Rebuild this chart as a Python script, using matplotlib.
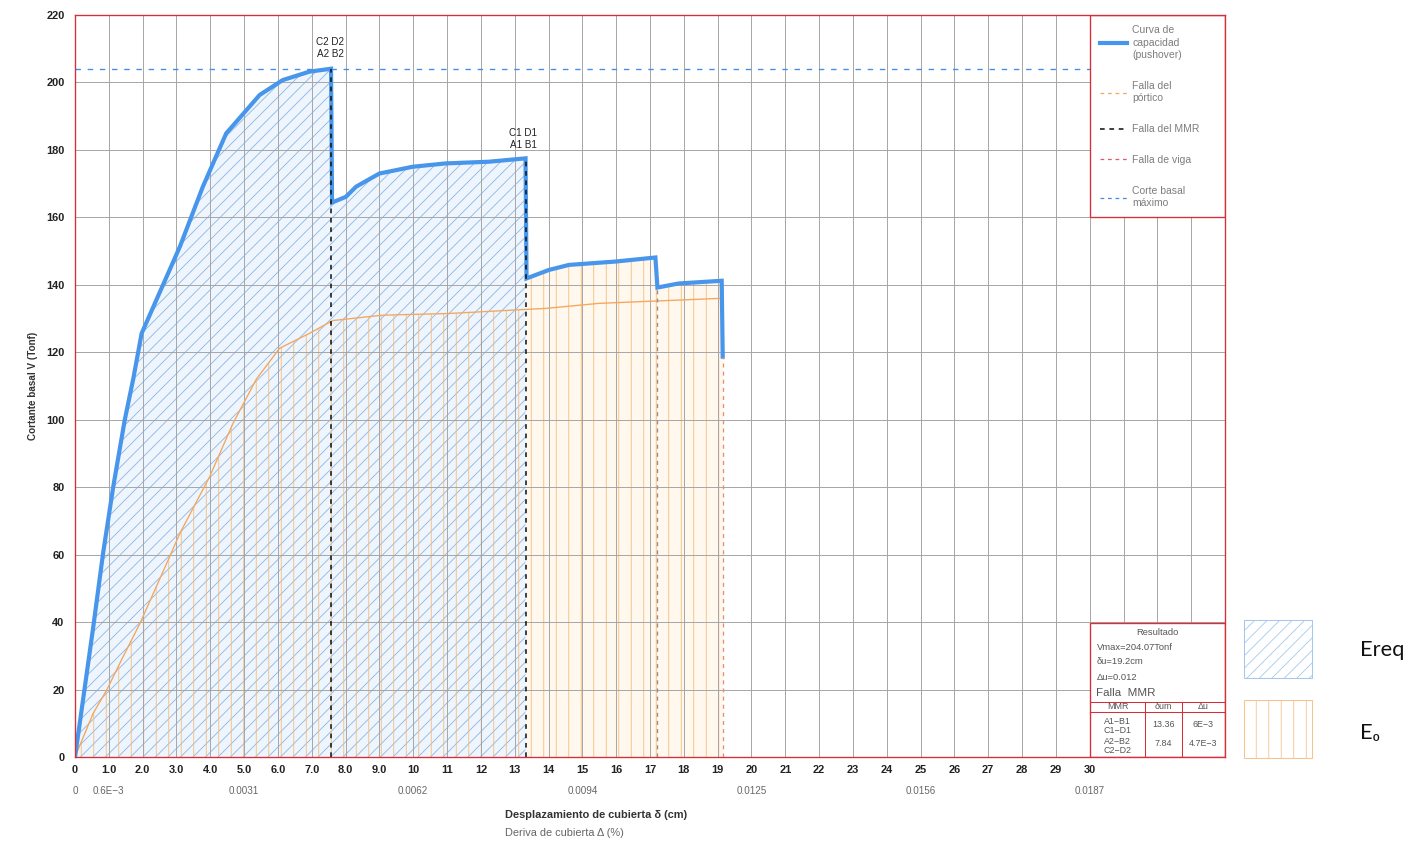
import numpy as np
import matplotlib.pyplot as plt
from matplotlib.patches import Rectangle
from matplotlib.lines import Line2D

plt.rcParams['font.family'] = ['Liberation Sans', 'DejaVu Sans']
plt.rcParams['hatch.linewidth'] = 0.8

# curva de capacidad (pushover): desplazamiento (cm) / cortante basal (Tonf)
cap_x = [0, 0.54, 0.83, 1.13, 1.47, 1.72, 1.97, 3.10, 3.78, 4.47, 5.46, 6.14, 6.93, 7.57,
         7.60, 8.01, 8.31, 9.00, 9.98, 10.96, 12.24, 13.32,
         13.35, 14.01, 14.60, 15.98, 17.16,
         17.22, 17.85, 19.12, 19.15]
cap_v = [0, 38.6, 60.4, 80.1, 99.9, 112.0, 125.6, 151.3, 169.1, 184.9, 196.3, 200.7, 203.2, 204.07,
         164.4, 166.1, 169.1, 173.0, 175.0, 176.0, 176.5, 177.5,
         141.9, 144.4, 145.9, 146.9, 148.1,
         139.2, 140.4, 141.2, 118.7]

# curva del portico
port_x = [0, 0.54, 0.94, 1.42, 1.92, 2.71, 3.10, 3.98, 4.67, 5.36, 6.05, 6.93, 7.62,
          9.09, 11.06, 13.32, 13.91, 15.49, 19.12]
port_v = [0, 13.0, 19.9, 29.7, 39.6, 57.4, 66.3, 83.1, 98.9, 112.0, 121.2, 125.6, 129.4,
          131.0, 131.5, 132.7, 133.0, 134.5, 136.0]

v_max = 204.07

x_ticks = list(range(0, 31))
x_labels = ['0'] + ['%.1f' % t for t in range(1, 10)] + [str(t) for t in range(10, 31)]
drift_pos = [0, 1, 5, 10, 15, 20, 25, 30]
drift_labels = ['0', '0.6E\u22123', '0.0031', '0.0062', '0.0094', '0.0125', '0.0156', '0.0187']

blue = '#4796ec'
orange = '#f4a75e'
red = '#d4303c'

cap_x = np.array(cap_x)
cap_v = np.array(cap_v)
port_x = np.array(port_x)
port_v = np.array(port_v)

i_pk1 = int(np.argmax(cap_v))          # falla MMR 2
i_pk2 = 21                              # falla MMR 1
i_viga = 27
i_end = len(cap_x) - 1

fig = plt.figure(figsize=(1420 / 75, 846 / 75), dpi=75)
ax = fig.add_axes([75 / 1420, 89 / 846, 1150 / 1420, 742 / 846])

# Ereq: area bajo la curva de capacidad
ax.fill_between(cap_x[:i_pk2 + 1], 0, cap_v[:i_pk2 + 1], facecolor='#eef5fd',
                edgecolor='#8db6e6', hatch='//', lw=0, zorder=1)
# E0
m = port_x <= cap_x[i_pk2]
ax.fill_between(port_x[m], 0, port_v[m], facecolor='none', edgecolor='#f6bb78',
                hatch='|', lw=0, zorder=1.2)
ax.fill_between(cap_x[i_pk2 + 1:], 0, cap_v[i_pk2 + 1:], facecolor='#fff8ef',
                edgecolor='#f6bb78', hatch='|', lw=0, zorder=1.2)

ax.set_xlim(0, 34)
ax.set_ylim(0, 220)
ax.set_xticks(np.arange(0, 35, 1), minor=True)
ax.set_xticks(x_ticks, labels=x_labels)
ax.set_yticks(np.arange(0, 221, 20))
ax.grid(True, which='both', color='#a3a3a3', lw=0.9)
ax.set_axisbelow(False)
ax.tick_params(which='both', length=0)
ax.tick_params(axis='x', pad=8, labelsize=10.5, labelcolor='#222')
ax.tick_params(axis='y', pad=10, labelsize=10.5, labelcolor='#222')
for lab in ax.get_xticklabels() + ax.get_yticklabels():
    lab.set_fontweight('bold')
for s in ax.spines.values():
    s.set_color(red)
    s.set_linewidth(1.3)
    s.set_zorder(10)

ax.plot(port_x, port_v, color=orange, lw=1.3, zorder=3)
ax.axhline(v_max, color='#3f8fe6', lw=1.3, ls=(0, (4, 5)), zorder=3)
ax.plot(cap_x, cap_v, color=blue, lw=4, solid_joinstyle='miter', zorder=4)

ax.vlines([cap_x[i_pk1], cap_x[i_pk2]], 0, [cap_v[i_pk1], cap_v[i_pk2]],
          colors='#111111', lw=1.5, linestyles=(0, (3, 3)), zorder=5)
ax.vlines(cap_x[i_viga], 0, cap_v[i_viga], colors='#9a8e96', lw=1.3,
          linestyles=(0, (3, 3)), zorder=5)
ax.vlines(cap_x[i_end], 0, cap_v[i_end], colors='#e8906e', lw=1.3,
          linestyles=(0, (3, 3)), zorder=5)

ax.annotate('C2 D2\nA2 B2', xy=(cap_x[i_pk1], cap_v[i_pk1]), xytext=(-1, 9),
            textcoords='offset points', ha='center', va='bottom', fontsize=9.5,
            color='#222', linespacing=1.3)
ax.annotate('C1 D1\nA1 B1', xy=(cap_x[i_pk2], cap_v[i_pk2]), xytext=(-2, 8),
            textcoords='offset points', ha='center', va='bottom', fontsize=9.5,
            color='#222', linespacing=1.3)

ax.set_ylabel('Cortante basal V (Tonf)', fontsize=9.5, fontweight='bold', color='#333',
              labelpad=8)
ax.text(0.374, -0.078, 'Desplazamiento de cubierta \u03b4 (cm)', transform=ax.transAxes,
        ha='left', va='center', fontsize=10.5, fontweight='bold', color='#333')
ax.text(0.374, -0.102, 'Deriva de cubierta \u0394 (%)', transform=ax.transAxes,
        ha='left', va='center', fontsize=10.5, color='#666')

sec = ax.secondary_xaxis('bottom')
sec.set_xticks(drift_pos, labels=drift_labels)
sec.tick_params(length=0, pad=28, labelsize=9.5, labelcolor='#666')
sec.spines['bottom'].set_visible(False)

# leyenda
ax.add_patch(Rectangle((30, 160), 4, 60, facecolor='white', edgecolor=red, lw=1.3, zorder=8))
handles = [Line2D([], [], color=blue, lw=4),
           Line2D([], [], color=orange, lw=1.2, ls=(0, (3, 3))),
           Line2D([], [], color='#111111', lw=1.5, ls=(0, (3, 3))),
           Line2D([], [], color='#e05a70', lw=1.2, ls=(0, (3, 3))),
           Line2D([], [], color='#3f8fe6', lw=1.2, ls=(0, (3, 3)))]
labels = ['Curva de\ncapacidad\n(pushover)', 'Falla del\np\u00f3rtico', 'Falla del MMR',
          'Falla de viga', 'Corte basal\nm\u00e1ximo']
leg = ax.legend(handles, labels, loc='upper left', bbox_to_anchor=(30, 220),
                bbox_transform=ax.transData, frameon=False, fontsize=10,
                handlelength=2.6, handletextpad=0.5, labelspacing=2.0,
                borderpad=1.0, borderaxespad=0)
leg.set_zorder(9)
for t in leg.get_texts():
    t.set_color('#7d7d7d')
    t.set_linespacing(1.3)

# cuadro de resultados
ax.add_patch(Rectangle((30, 0), 4, 39.7, facecolor='white', edgecolor=red, lw=1.3, zorder=8))
ax.plot([30, 34], [16.4, 16.4], color=red, lw=1, zorder=9)
ax.plot([30, 34], [13.4, 13.4], color=red, lw=1, zorder=9)
ax.plot([31.64, 31.64], [0, 16.4], color=red, lw=1, zorder=9)
ax.plot([32.72, 32.72], [0, 16.4], color=red, lw=1, zorder=9)
tk = dict(color='#555', fontsize=9, zorder=9, va='center')
tt = dict(color='#555', fontsize=8.5, zorder=9, va='center')
ax.text(32.0, 36.8, 'Resultado', ha='center', **tk)
ax.text(30.2, 32.6, 'Vmax=204.07Tonf', ha='left', **tk)
ax.text(30.2, 28.4, '\u03b4u=19.2cm', ha='left', **tk)
ax.text(30.2, 23.7, '\u0394u=0.012', ha='left', **tk)
ax.text(30.2, 19.0, 'Falla  MMR', ha='left', color='#555', fontsize=11, zorder=9, va='center')
ax.text(30.82, 14.9, 'MMR', ha='center', **tt)
ax.text(32.18, 14.9, '\u03b4um', ha='center', **tt)
ax.text(33.36, 14.9, '\u0394u', ha='center', **tt)
ax.text(30.82, 9.3, 'A1\u2212B1\nC1\u2212D1', ha='center', linespacing=1.0, **tt)
ax.text(32.18, 9.6, '13.36', ha='center', **tt)
ax.text(33.36, 9.6, '6E\u22123', ha='center', **tt)
ax.text(30.82, 3.3, 'A2\u2212B2\nC2\u2212D2', ha='center', linespacing=1.0, **tt)
ax.text(32.18, 3.9, '7.84', ha='center', **tt)
ax.text(33.36, 3.9, '4.7E\u22123', ha='center', **tt)

# leyenda de energias
fig.add_artist(Rectangle((1244 / 1420, (846 - 678) / 846), 68 / 1420, 58 / 846,
                         transform=fig.transFigure, facecolor='white',
                         edgecolor='#a6c8ee', hatch='//', lw=1))
fig.add_artist(Rectangle((1244 / 1420, (846 - 758) / 846), 68 / 1420, 58 / 846,
                         transform=fig.transFigure, facecolor='white',
                         edgecolor='#f6c290', hatch='|', lw=1))
fig.text(1360 / 1420, (846 - 650) / 846, 'Ereq', fontsize=21, va='center',
         family=['Lato', 'DejaVu Sans'], color='#111')
fig.text(1360 / 1420, (846 - 733) / 846, 'E\u2080', fontsize=21, va='center',
         family=['Lato', 'DejaVu Sans'], color='#111')

fig.savefig('out.png', dpi=75)
